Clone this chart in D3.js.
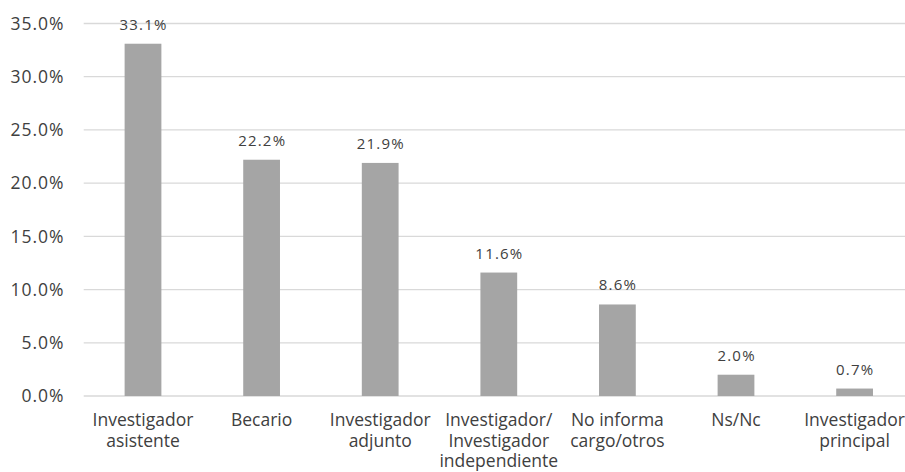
<!DOCTYPE html>
<html>
<head>
<meta charset="utf-8">
<script src="https://cdn.jsdelivr.net/npm/d3@7"></script>
<style>
  body { margin: 0; background: #fff; }
  text { font-family: "Open Sans", "Noto Sans", sans-serif; fill: #404040; }
</style>
</head>
<body>
<svg id="chart"></svg>
<script>
// Data
const categories = [
  ["Investigador", "asistente"],
  ["Becario"],
  ["Investigador", "adjunto"],
  ["Investigador/", "Investigador", "independiente"],
  ["No informa", "cargo/otros"],
  ["Ns/Nc"],
  ["Investigador", "principal"]
];
const values = [33.1, 22.2, 21.9, 11.6, 8.6, 2.0, 0.7];
const yTicks = [0, 5, 10, 15, 20, 25, 30, 35];

// Chart Dimensions
const width = 905;
const height = 472;
const plotLeft = 83.7;
const plotRight = 913.9;
const plotTop = 23.5;
const plotBottom = 396;

const svg = d3.select("#chart").attr("width", width).attr("height", height);

// Scales
const x = d3
  .scaleBand()
  .domain(d3.range(categories.length))
  .range([plotLeft, plotRight])
  .paddingInner(0.69)
  .paddingOuter(0.345);

const y = d3.scaleLinear().domain([0, 35]).range([plotBottom, plotTop]);

// Gridlines
svg
  .append("g")
  .selectAll("line")
  .data(yTicks)
  .enter()
  .append("line")
  .attr("x1", plotLeft)
  .attr("x2", width)
  .attr("y1", (d) => y(d))
  .attr("y2", (d) => y(d))
  .attr("stroke", "#d9d9d9")
  .attr("stroke-width", 1.3);

// Y labels
svg
  .append("g")
  .selectAll("text")
  .data(yTicks)
  .enter()
  .append("text")
  .attr("x", 64.5)
  .attr("y", (d) => y(d))
  .attr("dy", "0.36em")
  .attr("text-anchor", "end")
  .style("font-size", "17.5px")
  .style("letter-spacing", "1px")
  .text((d) => d.toFixed(1) + "%");

// Bars
svg
  .append("g")
  .selectAll("rect")
  .data(values)
  .enter()
  .append("rect")
  .attr("x", (d, i) => x(i))
  .attr("y", (d) => y(d))
  .attr("width", x.bandwidth())
  .attr("height", (d) => plotBottom - y(d))
  .attr("fill", "#a5a5a5");

// Value labels
svg
  .append("g")
  .selectAll("text")
  .data(values)
  .enter()
  .append("text")
  .attr("x", (d, i) => x(i) + x.bandwidth() / 2 + 0.6)
  .attr("y", (d) => y(d) - 14)
  .attr("text-anchor", "middle")
  .style("font-size", "15px")
  .style("letter-spacing", "1.2px")
  .text((d) => d.toFixed(1) + "%");

// Category labels
const lineHeight = 20.5;
svg
  .append("g")
  .selectAll("text")
  .data(categories)
  .enter()
  .append("text")
  .attr("y", 426)
  .attr("text-anchor", "middle")
  .style("font-size", "17.5px")
  .selectAll("tspan")
  .data((d, i) => d.map((t) => ({ t, i })))
  .enter()
  .append("tspan")
  .attr("x", (d) => x(d.i) + x.bandwidth() / 2)
  .attr("dy", (d, j) => (j === 0 ? 0 : lineHeight))
  .text((d) => d.t);
</script>
</body>
</html>
